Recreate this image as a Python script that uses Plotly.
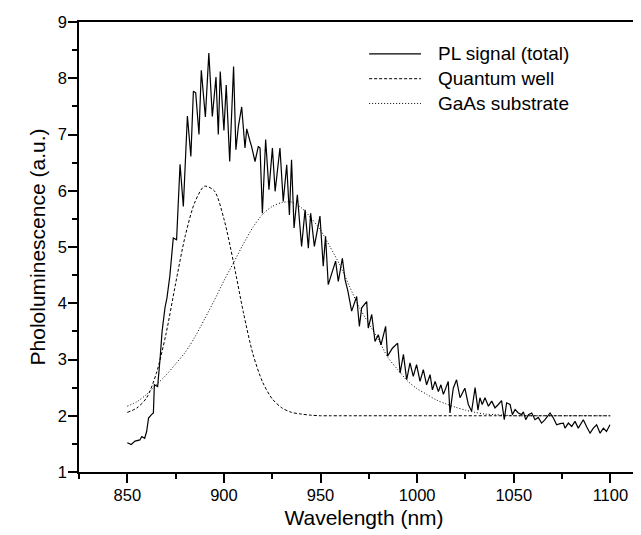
import plotly.graph_objects as go

# ---- data ----
pl_wavelength = [850, 852, 854, 856.5, 857.5, 859, 860, 861, 862.5, 863.5, 864, 865.7, 867, 868, 869.5,
                 870.5, 872, 873.8, 875.5, 877.3, 879, 881.1, 882.9, 884.2, 885.4, 887.1, 888.3, 890.4,
                 892.2, 894, 895.9, 897.1, 898.1, 900, 901.2, 903, 905, 906.2, 907.5, 909.2, 910.9,
                 911.8, 913.5, 914.3, 916.1, 917.8, 918.7, 919.9, 921.6, 923.3, 925.1, 926.5, 929,
                 930.7, 932.5, 933.9, 935, 936.3, 938, 940.2, 942, 943.7, 944.9, 946.8, 949.7, 951.4,
                 952.6, 954, 957.8, 959.2, 961.3, 962.7, 964.2, 966.1, 968.7, 970.1, 971.3, 973.9,
                 974.7, 976.5, 978.2, 979.9, 981.3, 983.7, 984.7, 987.2, 989.9, 991.2, 992.9, 994.6,
                 996.3, 998, 999.7, 1001.5, 1003.2, 1004.9, 1006.7, 1007.9, 1009.3, 1011, 1012.3,
                 1013.6, 1016.1, 1017, 1018.7, 1020.4, 1022.2, 1024.7, 1026.5, 1028.2, 1030, 1031.5,
                 1032.5, 1033.7, 1035.1, 1036.9, 1038.6, 1040.3, 1042, 1043.7, 1045.1, 1046.3, 1048.1,
                 1049.3, 1050.7, 1052.4, 1054.1, 1055, 1056.2, 1057.6, 1059.3, 1061, 1062.7, 1064.4,
                 1066.2, 1068.8, 1070.5, 1072.2, 1074, 1075.7, 1076.5, 1078.3, 1080, 1081.7, 1083.4,
                 1086, 1087.8, 1089.5, 1091.2, 1092.9, 1094.7, 1096.4, 1098, 1099.8]
pl_signal = [1.52, 1.49, 1.55, 1.57, 1.63, 1.60, 1.72, 1.96, 2.02, 2.05, 2.55, 2.52, 3.03, 3.5, 3.92,
             4.09, 4.48, 5.16, 5.13, 6.47, 5.72, 7.33, 6.61, 7.77, 7.74, 7.0, 8.14, 7.31,
             8.45, 7.32, 8.02, 7.0, 8.12, 7.07, 7.88, 6.52, 8.21, 6.73, 7.15, 7.49, 6.76,
             7.1, 6.88, 6.79, 6.52, 6.79, 6.76, 5.6, 6.91, 6.02, 6.76, 5.99, 6.76,
             5.81, 6.46, 5.57, 6.55, 5.34, 5.93, 5.01, 5.66, 4.98, 5.6, 5.01, 5.55, 4.66,
             5.19, 4.33, 4.75, 4.39, 4.8, 4.42, 4.21, 3.86, 4.12, 3.59, 3.92, 4.03,
             3.56, 3.8, 3.32, 3.44, 3.26, 3.59, 3.06, 3.2, 3.29, 2.76, 3.09, 2.64,
             2.94, 2.7, 2.91, 2.61, 2.82, 2.55, 2.73, 2.46, 2.61, 2.43, 2.55,
             2.38, 2.61, 2.05, 2.49, 2.64, 2.32, 2.49, 2.2, 2.08, 2.5, 2.1,
             2.32, 2.2, 2.32, 2.17, 2.26, 2.14, 2.2, 2.27, 1.93, 2.23, 2.2,
             2.02, 2.11, 2.05, 2.02, 2.07, 1.93, 2.02, 2.05, 1.93, 1.97, 1.87,
             1.93, 2.05, 1.96, 1.84, 1.86, 1.87, 1.78, 1.87, 1.81, 1.9, 1.78,
             1.93, 1.8, 1.69, 1.78, 1.84, 1.69, 1.78, 1.72, 1.84]

fit_wavelength = [850, 855, 860, 865, 870, 875, 880, 885, 890, 895, 900, 905, 910, 915, 920, 925,
                  930, 935, 940, 945, 950, 955, 960, 965, 970, 975, 980, 985, 990, 995, 1000,
                  1005, 1010, 1015, 1020, 1025, 1030, 1035, 1040, 1045, 1050, 1060, 1070, 1080,
                  1090, 1100]
quantum_well = [2.06, 2.14, 2.32, 2.75, 3.45, 4.35, 5.2, 5.8, 6.08, 6.0, 5.5, 4.72, 3.85, 3.1, 2.6,
                2.3, 2.14, 2.06, 2.03, 2.01, 2.0, 2.0, 2.0, 2.0, 2.0, 2.0, 2.0, 2.0, 2.0, 2.0,
                2.0, 2.0, 2.0, 2.0, 2.0, 2.0, 2.0, 2.0, 2.0, 2.0, 2.0, 2.0, 2.0, 2.0, 2.0, 2.0]
gaas_substrate = [2.17, 2.25, 2.38, 2.55, 2.72, 2.92, 3.13, 3.4, 3.72, 4.05, 4.4, 4.72, 5.05, 5.35,
                  5.58, 5.72, 5.79, 5.8, 5.7, 5.52, 5.3, 5.0, 4.68, 4.3, 3.93, 3.64, 3.35, 3.03,
                  2.82, 2.62, 2.48, 2.38, 2.28, 2.21, 2.15, 2.1, 2.06, 2.03, 2.02, 2.01, 2.0,
                  2.0, 2.0, 2.0, 2.0, 2.0]

series_names = ["PL signal (total)", "Quantum well", "GaAs substrate"]
series_dash = ["solid", "3px,2px", "1px,2px"]
x_tickvals = [850, 900, 950, 1000, 1050, 1100]
y_tickvals = [1, 2, 3, 4, 5, 6, 7, 8, 9]

FONT = "Liberation Sans, Arial, Helvetica, sans-serif"

fig = go.Figure()
fig.add_trace(go.Scatter(x=pl_wavelength, y=pl_signal, mode="lines", name=series_names[0],
                         line=dict(color="black", width=1.2)))
fig.add_trace(go.Scatter(x=fit_wavelength, y=quantum_well, mode="lines", name=series_names[1],
                         line=dict(color="black", width=1, dash=series_dash[1], shape="spline", smoothing=0.8)))
fig.add_trace(go.Scatter(x=fit_wavelength, y=gaas_substrate, mode="lines", name=series_names[2],
                         line=dict(color="black", width=1, dash=series_dash[2], shape="spline", smoothing=0.8)))

# legend drawn as key lines + text (Origin-style compact legend)
legend_rows_y = [0.929, 0.874, 0.819]
for name, dash, yy in zip(series_names, series_dash, legend_rows_y):
    fig.add_shape(type="line", xref="paper", yref="paper", x0=0.509, x1=0.600, y0=yy, y1=yy,
                  line=dict(color="black", width=1.2 if dash == "solid" else 1, dash=dash))
    fig.add_annotation(xref="paper", yref="paper", x=0.628, y=yy, text=name, showarrow=False,
                       xanchor="left", yanchor="middle", borderpad=0,
                       font=dict(size=19, family=FONT, color="black"))

fig.update_layout(
    width=641, height=535,
    margin=dict(l=71, r=0, t=14, b=71),
    paper_bgcolor="white", plot_bgcolor="white",
    font=dict(family=FONT, color="black", size=16),
    showlegend=False,
)
fig.update_xaxes(
    range=[825, 1120], showline=True, linecolor="black", linewidth=1.5, mirror=True,
    showgrid=False, zeroline=False,
    tickmode="array", tickvals=x_tickvals, ticks="outside", ticklen=9, tickwidth=1.5, tickcolor="black",
    minor=dict(dtick=25, tick0=825, ticks="outside", ticklen=5, tickwidth=1.5, tickcolor="black", showgrid=False),
    tickfont=dict(size=16.5, family=FONT), ticklabelstandoff=-2,
    title=dict(text="Wavelength (nm)", font=dict(size=21, family=FONT), standoff=8),
)
fig.update_yaxes(
    range=[1, 9], showline=True, linecolor="black", linewidth=1.5, mirror=False,
    showgrid=False, zeroline=False,
    tickmode="array", tickvals=y_tickvals, ticks="outside", ticklen=9, tickwidth=1.5, tickcolor="black",
    minor=dict(dtick=0.5, tick0=1, ticks="outside", ticklen=5, tickwidth=1.5, tickcolor="black", showgrid=False),
    tickfont=dict(size=16.5, family=FONT), ticklabelstandoff=-2,
    title=dict(text="Phololuminescence (a.u.)", font=dict(size=21, family=FONT), standoff=6),
)
fig.write_html("out.html")
